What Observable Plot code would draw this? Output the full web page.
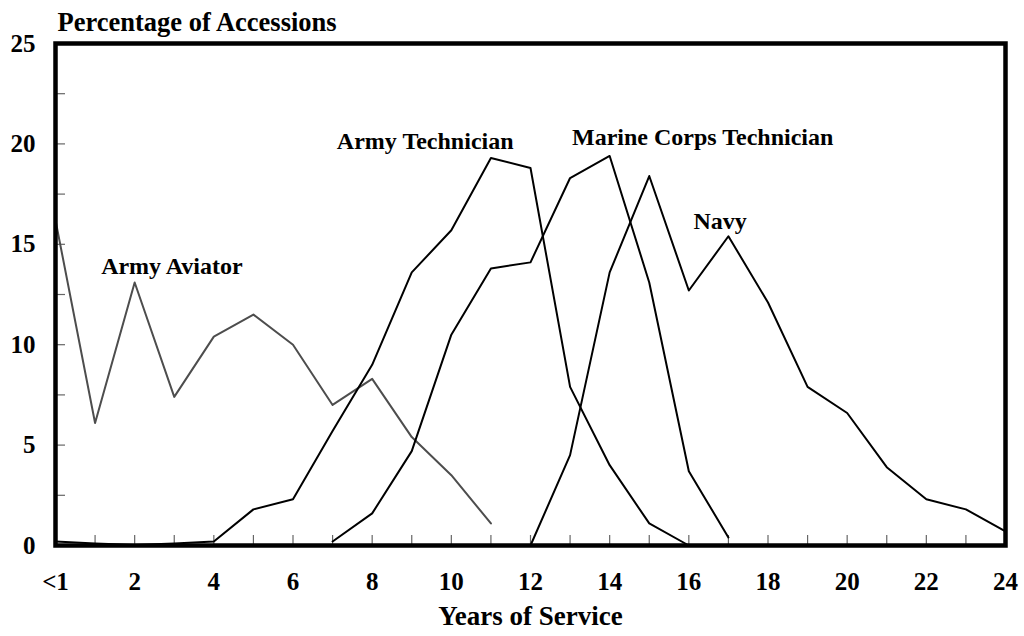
<!DOCTYPE html>
<html>
<head>
<meta charset="utf-8">
<script src="https://cdn.jsdelivr.net/npm/d3@7"></script>
<script src="https://cdn.jsdelivr.net/npm/@observablehq/plot@0.6"></script>
<style>
  html, body { margin: 0; padding: 0; background: white; }
</style>
</head>
<body>
<div id="chart"></div>
<script>
// ---- Data ----
const aviatorYears = [0,1,2,3,4,5,6,7,8,9,10,11];
const aviatorValues = [16.2, 6.1, 13.1, 7.4, 10.4, 11.5, 10.0, 7.0, 8.3, 5.4, 3.5, 1.1];

const armyTechYears = [0,1,2,3,4,5,6,7,8,9,10,11,12,13,14,15,16];
const armyTechValues = [0.2, 0.1, 0.03, 0.1, 0.2, 1.8, 2.3, 5.7, 9.0, 13.6, 15.7, 19.3, 18.8, 7.9, 4.0, 1.1, 0.0];

const marineYears = [7,8,9,10,11,12,13,14,15,16,17];
const marineValues = [0.2, 1.6, 4.7, 10.5, 13.8, 14.1, 18.3, 19.4, 13.1, 3.7, 0.4];

const navyYears = [12,13,14,15,16,17,18,19,20,21,22,23,24];
const navyValues = [0.0, 4.5, 13.6, 18.4, 12.7, 15.4, 12.1, 7.9, 6.6, 3.9, 2.3, 1.8, 0.7];

const xMinorTicks = d3.range(0, 25, 1);
const xLabelTicks = [0,2,4,6,8,10,12,14,16,18,20,22,24];
const yMinorTicks = [0, 2.5, 5, 7.5, 10, 12.5, 15, 17.5, 20, 22.5, 25];
const yLabelTicks = [0, 5, 10, 15, 20, 25];

const seriesLabels = [
  {name: "Army Aviator", x: 2.94, y: 13.5},
  {name: "Army Technician", x: 9.34, y: 19.77},
  {name: "Marine Corps Technician", x: 16.35, y: 19.97},
  {name: "Navy", x: 16.79, y: 15.74}
];

const titleText = "Percentage of Accessions";
const xTitleText = "Years of Service";

// ---- Build tables ----
const toRows = (years, values) => years.map((x, i) => ({x, y: values[i]}));
const aviator = toRows(aviatorYears, aviatorValues);
const armyTech = toRows(armyTechYears, armyTechValues);
const marine = toRows(marineYears, marineValues);
const navy = toRows(navyYears, navyValues);

const FONT = "'Liberation Serif', 'Times New Roman', serif";

const chart = Plot.plot({
  width: 1024,
  height: 636,
  marginLeft: 55,
  marginRight: 19,
  marginTop: 43,
  marginBottom: 91,
  style: {fontFamily: FONT, fontWeight: "bold", background: "white", color: "black"},
  x: {domain: [0, 24]},
  y: {domain: [0, 25]},
  marks: [
    // inside minor ticks
    Plot.axisX({ticks: xMinorTicks, tickSize: -10, tickFormat: () => "", label: null, stroke: "#666", strokeWidth: 1.2}),
    Plot.axisY({ticks: yMinorTicks, tickSize: -10, tickFormat: () => "", label: null, stroke: "#666", strokeWidth: 1.2}),
    // tick labels
    Plot.axisX({ticks: xLabelTicks, tickSize: 0, tickPadding: 27, label: null,
      tickFormat: d => d === 0 ? "<1" : String(d),
      fontSize: 25, fontWeight: "bold", fontFamily: FONT, fill: "black"}),
    Plot.axisY({ticks: yLabelTicks, tickSize: 0, tickPadding: 20, label: null,
      tickFormat: d => String(d),
      fontSize: 25, fontWeight: "bold", fontFamily: FONT, fill: "black"}),
    // lines
    Plot.line(aviator, {x: "x", y: "y", stroke: "#4d4d4d", strokeWidth: 2}),
    Plot.line(armyTech, {x: "x", y: "y", stroke: "black", strokeWidth: 2}),
    Plot.line(marine, {x: "x", y: "y", stroke: "black", strokeWidth: 2}),
    Plot.line(navy, {x: "x", y: "y", stroke: "black", strokeWidth: 2}),
    // series labels
    Plot.text(seriesLabels, {x: "x", y: "y", text: "name", textAnchor: "middle", lineAnchor: "bottom",
      fontSize: 24, fontWeight: "bold", fontFamily: FONT, fill: "black"}),
    // titles
    Plot.text([titleText], {text: d => d, frameAnchor: "top-left", textAnchor: "start", lineAnchor: "bottom",
      dx: 2, dy: -13, fontSize: 26.5, fontWeight: "bold", fontFamily: FONT, fill: "black"}),
    Plot.text([xTitleText], {text: d => d, frameAnchor: "bottom", textAnchor: "middle", lineAnchor: "bottom",
      dy: 79, fontSize: 27, fontWeight: "bold", fontFamily: FONT, fill: "black"}),
    // frame
    Plot.frame({stroke: "black", strokeWidth: 4.5})
  ]
});

document.getElementById("chart").appendChild(chart);
</script>
</body>
</html>
